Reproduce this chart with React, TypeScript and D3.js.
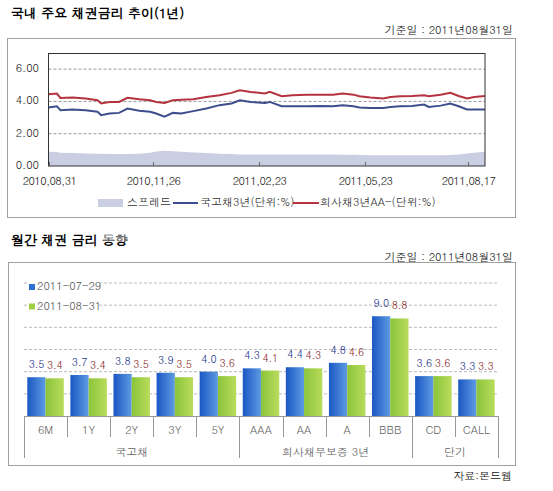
import React from "react";
import * as d3 from "d3";

// ---- top chart data ----
const trendDates = [
  "2010-08-31", "2010-09-07", "2010-09-10", "2010-09-20", "2010-10-01", "2010-10-11",
  "2010-10-14", "2010-10-21", "2010-10-29", "2010-11-05", "2010-11-15", "2010-11-24",
  "2010-11-29", "2010-12-06", "2010-12-13", "2010-12-20", "2010-12-30", "2011-01-10",
  "2011-01-21", "2011-01-31", "2011-02-07", "2011-02-16", "2011-02-28", "2011-03-04",
  "2011-03-14", "2011-03-23", "2011-04-04", "2011-04-15", "2011-04-26", "2011-05-04",
  "2011-05-13", "2011-05-18", "2011-05-27", "2011-06-07", "2011-06-13", "2011-06-21",
  "2011-07-01", "2011-07-11", "2011-07-15", "2011-07-25", "2011-08-02", "2011-08-09",
  "2011-08-16", "2011-08-22", "2011-08-31",
];
const gov3y = [
  3.62, 3.70, 3.46, 3.50, 3.46, 3.36, 3.15, 3.25, 3.29, 3.56, 3.42, 3.36,
  3.25, 3.05, 3.29, 3.25, 3.40, 3.56, 3.77, 3.87, 4.07, 3.97, 3.91, 3.97,
  3.70, 3.70, 3.70, 3.72, 3.70, 3.77, 3.70, 3.62, 3.60, 3.60, 3.66, 3.70,
  3.72, 3.81, 3.66, 3.74, 3.87, 3.70, 3.50, 3.50, 3.50,
];
const corp3y = [
  4.45, 4.49, 4.22, 4.24, 4.18, 4.07, 3.87, 3.97, 3.97, 4.22, 4.13, 4.07,
  3.97, 3.91, 4.07, 4.11, 4.13, 4.28, 4.38, 4.53, 4.69, 4.59, 4.49, 4.59,
  4.32, 4.38, 4.42, 4.42, 4.42, 4.49, 4.42, 4.32, 4.24, 4.18, 4.28, 4.32,
  4.34, 4.38, 4.32, 4.42, 4.53, 4.34, 4.18, 4.28, 4.34,
];
const spread = [
  0.88, 0.86, 0.82, 0.80, 0.78, 0.76, 0.76, 0.74, 0.74, 0.74, 0.76, 0.82,
  0.90, 0.95, 0.92, 0.88, 0.84, 0.80, 0.76, 0.74, 0.72, 0.72, 0.72, 0.72,
  0.72, 0.72, 0.72, 0.72, 0.72, 0.70, 0.70, 0.68, 0.66, 0.66, 0.66, 0.66,
  0.66, 0.66, 0.66, 0.66, 0.68, 0.72, 0.78, 0.82, 0.88,
];
const trendTicks = ["2010-08-31", "2010-11-26", "2011-02-23", "2011-05-23", "2011-08-17"];
const trendYTicks = [0, 2, 4, 6];

// ---- bottom chart data ----
const categories = ["6M", "1Y", "2Y", "3Y", "5Y", "AAA", "AA", "A", "BBB", "CD", "CALL"];
const seriesNames = ["2011-07-29", "2011-08-31"];
const rateJul = [3.5, 3.7, 3.8, 3.9, 4.0, 4.3, 4.4, 4.8, 9.0, 3.6, 3.3];
const rateAug = [3.4, 3.4, 3.5, 3.5, 3.6, 4.1, 4.3, 4.6, 8.8, 3.6, 3.3];
const groupNames = ["국고채", "회사채무보증 3년", "단기"];
const groupSizes = [5, 4, 2];
const barYTicks = [2, 4, 6, 8, 10, 12];

const FONT = "Dotum, 'Liberation Sans', 'Noto Sans CJK KR', sans-serif";
const parse = d3.timeParse("%Y-%m-%d");

const TrendChart = () => {
  const x = d3.scaleTime()
    .domain([parse("2010-08-31")!, parse("2011-08-31")!])
    .range([48.5, 485]);
  const y = d3.scaleLinear().domain([0, 7]).range([166, 53]);
  const dates = trendDates.map((d) => parse(d)!);

  const area = d3.area<number>()
    .x((_, i) => x(dates[i]))
    .y0(y(0))
    .y1((d) => y(d));
  const line = d3.line<number>()
    .x((_, i) => x(dates[i]))
    .y((d) => y(d));
  const fmt = d3.timeFormat("%Y,%m,%d");

  return (
    <g>
      <rect x={7.5} y={38.5} width={508} height={179} fill="#fff" stroke="#a0a0a0" />
      <path d={area(spread)!} fill="#c9cee2" />
      {trendYTicks.filter((t) => t > 0).map((t) => (
        <line key={t} x1={48.5} x2={485} y1={y(t)} y2={y(t)} stroke="#999" strokeDasharray="3,2" />
      ))}
      <path d={line(gov3y)!} fill="none" stroke="#3c4e8c" strokeWidth={2} />
      <path d={line(corp3y)!} fill="none" stroke="#b5333f" strokeWidth={2} />
      <rect x={48.5} y={53.5} width={436.5} height={112.5} fill="none" stroke="#333" />
      {trendYTicks.map((t) => (
        <text key={t} x={39} y={y(t)} textAnchor="end" dominantBaseline="middle" fontSize={11} fill="#222">
          {t.toFixed(2)}
        </text>
      ))}
      {trendTicks.map((t) => {
        const px = Math.round(x(parse(t)!)) + 0.5;
        return (
          <g key={t}>
            <line x1={px} x2={px} y1={166} y2={162} stroke="#666" />
            <text x={px} y={182} textAnchor="middle" dominantBaseline="middle" fontSize={11} fill="#222" letterSpacing={-0.6}>
              {fmt(parse(t)!)}
            </text>
          </g>
        );
      })}
      <g fontSize={11} fill="#333">
        <rect x={98} y={199} width={25} height={8} fill="#c9cee2" />
        <text x={127} y={203} dominantBaseline="middle">스프레드</text>
        <line x1={173} x2={198} y1={203} y2={203} stroke="#3c4e8c" strokeWidth={2} />
        <text x={200} y={203} dominantBaseline="middle">국고채3년(단위:%)</text>
        <line x1={293} x2={319} y1={203} y2={203} stroke="#b5333f" strokeWidth={2} />
        <text x={320} y={203} dominantBaseline="middle">회사채3년AA-(단위:%)</text>
      </g>
    </g>
  );
};

const BarChart = () => {
  const x = d3.scaleBand().domain(categories).range([24, 498]);
  const x1 = d3.scaleBand().domain(seriesNames).range([3.3, x.bandwidth() - 3.3]);
  const y = d3.scaleLinear().domain([0, 12]).range([416, 283]);
  const values = [rateJul, rateAug];
  const labelColors = ["#23358a", "#8a2e2e"];
  const bw = x.bandwidth();
  const baseY = y(0);

  // group boundaries from group sizes
  const bounds = [0];
  groupSizes.forEach((s) => bounds.push(bounds[bounds.length - 1] + s));

  return (
    <g>
      <defs>
        <linearGradient id="gBlue" x1="0" x2="1" y1="0" y2="0">
          <stop offset="0" stopColor="#1a57c4" />
          <stop offset="1" stopColor="#5e9be2" />
        </linearGradient>
        <linearGradient id="gGreen" x1="0" x2="1" y1="0" y2="0">
          <stop offset="0" stopColor="#8bc43a" />
          <stop offset="1" stopColor="#b9dc5c" />
        </linearGradient>
      </defs>
      <rect x={8.5} y={262.5} width={507} height={203} fill="#fff" stroke="#a0a0a0" />
      {barYTicks.map((t) => (
        <line key={t} x1={24} x2={498} y1={y(t)} y2={y(t)} stroke="#bbb" strokeDasharray="3,2" />
      ))}
      {categories.map((c, i) => (
        <g key={c}>
          {values.map((vals, s) => {
            const bx = x(c)! + x1(seriesNames[s])!;
            return (
              <g key={s}>
                <rect x={bx} y={y(vals[i])} width={x1.bandwidth()} height={baseY - y(vals[i])}
                  fill={s === 0 ? "url(#gBlue)" : "url(#gGreen)"} />
                <text x={bx + x1.bandwidth() / 2} y={y(vals[i]) - 12} textAnchor="middle"
                  dominantBaseline="middle" fontSize={10.5} letterSpacing={-0.3} fill={labelColors[s]}>
                  {vals[i].toFixed(1)}
                </text>
              </g>
            );
          })}
          <text x={x(c)! + bw / 2} y={431} textAnchor="middle" dominantBaseline="middle" fontSize={11} fill="#666">
            {c}
          </text>
        </g>
      ))}
      <line x1={24} x2={498} y1={baseY + 0.5} y2={baseY + 0.5} stroke="#999" />
      {d3.range(categories.length + 1).map((i) => {
        const px = Math.round(24 + i * bw) + 0.5;
        const isGroup = bounds.includes(i);
        return <line key={i} x1={px} x2={px} y1={baseY} y2={isGroup ? 458 : 437} stroke="#999" />;
      })}
      {groupNames.map((g, gi) => {
        const cx = 24 + ((bounds[gi] + bounds[gi + 1]) / 2) * bw;
        return (
          <text key={g} x={cx} y={453} textAnchor="middle" dominantBaseline="middle" fontSize={11} fill="#666">
            {g}
          </text>
        );
      })}
      <rect x={27} y={279} width={70} height={34} fill="#fff" />
      {seriesNames.map((n, s) => (
        <g key={n}>
          <rect x={29} y={284 + s * 19.5} width={6} height={6} fill={s === 0 ? "#2e6fd0" : "#9ccf45"} />
          <text x={37} y={287 + s * 19.5} dominantBaseline="middle" fontSize={11} fill="#555">{n}</text>
        </g>
      ))}
    </g>
  );
};

export default function App() {
  return (
    <div style={{ position: "absolute", left: 0, top: 0 }}>
      <svg width={553} height={491} fontFamily={FONT} style={{ display: "block", background: "#fff" }}>
        <text x={11} y={14} dominantBaseline="middle" fontSize={13} fontWeight="bold" fill="#000">
          국내 주요 채권금리 추이(1년)
        </text>
        <text x={513} y={31} textAnchor="end" dominantBaseline="middle" fontSize={11} fill="#222">
          기준일 : 2011년08월31일
        </text>
        <TrendChart />
        <text x={11} y={241} dominantBaseline="middle" fontSize={13} fontWeight="bold" fill="#000">
          월간 채권 금리 동향
        </text>
        <text x={513} y={258} textAnchor="end" dominantBaseline="middle" fontSize={11} fill="#222">
          기준일 : 2011년08월31일
        </text>
        <BarChart />
        <text x={512} y={477} textAnchor="end" dominantBaseline="middle" fontSize={11} fill="#111">
          자료:본드웹
        </text>
      </svg>
    </div>
  );
}
